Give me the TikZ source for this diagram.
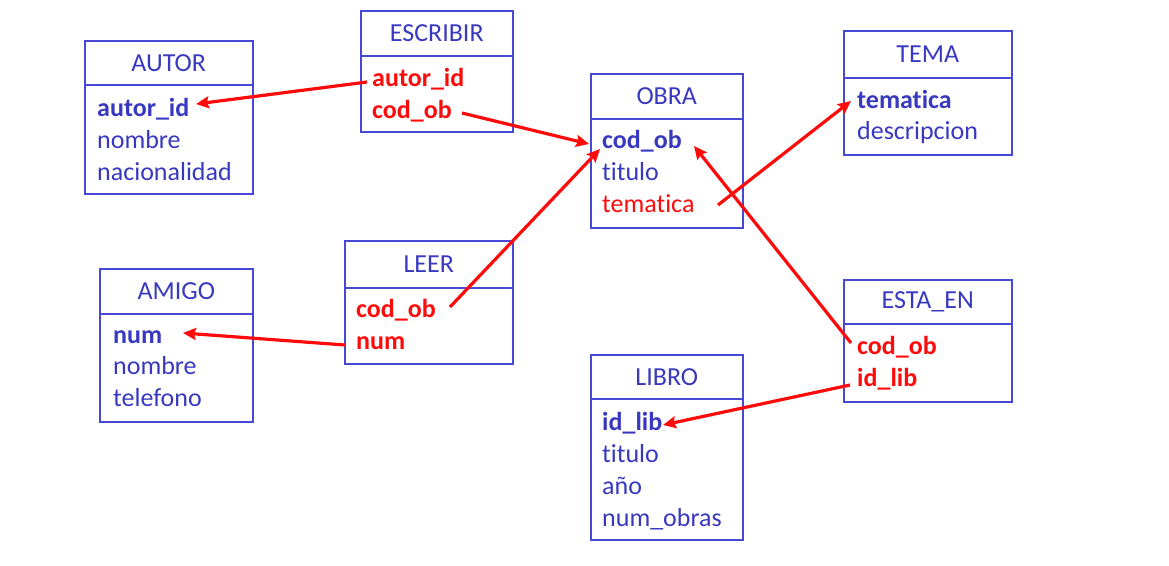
\documentclass[tikz,border=0pt]{standalone}
\usepackage{fontspec}
\setmainfont{Carlito}[Ligatures={NoCommon}]
\usetikzlibrary{arrows.meta}
\definecolor{bordc}{RGB}{72,72,214}
\definecolor{txtb}{RGB}{56,56,192}
\definecolor{txtr}{RGB}{255,10,10}
\tikzset{
  frame/.style={draw=bordc, line width=1.5pt, inner sep=0pt, anchor=north west},
  hdr/.style={frame, text=txtb, font=\fontsize{26}{30}\selectfont},
  fld/.style={inner sep=0pt, anchor=base west, text=txtb, font=\fontsize{26}{30}\selectfont},
  key/.style={fld, font=\fontsize{26}{30}\selectfont\bfseries},
  rfk/.style={fld, text=txtr, font=\fontsize{26}{30}\selectfont\bfseries},
  rfld/.style={fld, text=txtr},
  fkarrow/.style={draw=txtr, line width=3.2pt, -{Stealth[length=13pt,width=12pt,inset=2pt]}},
}
\begin{document}
\begin{tikzpicture}[x=1pt,y=-1pt]
\useasboundingbox (0,0) rectangle (1169,565);
% AUTOR
\node[hdr, minimum width=168pt, minimum height=44pt] (autorH) at (84,40) {AUTOR};
\node[frame, minimum width=168pt, minimum height=109pt] (autorB) at (84,84) {};
\node[key] (autorA) at (97,116) {autor\_id};
\node[fld] (autorN) at (97,148) {nombre};
\node[fld] (autorC) at (97,180) {nacionalidad};
% ESCRIBIR
\node[hdr, minimum width=152pt, minimum height=45pt] (escH) at (360,10) {ESCRIBIR};
\node[frame, minimum width=152pt, minimum height=76pt] (escB) at (360,55) {};
\node[rfk] (escA) at (372,86) {autor\_id};
\node[rfk] (escC) at (372,118) {cod\_ob};
% OBRA
\node[hdr, minimum width=152pt, minimum height=45pt] (obraH) at (590,73) {OBRA};
\node[frame, minimum width=152pt, minimum height=109pt] (obraB) at (590,118) {};
\node[key] (obraC) at (602,148) {cod\_ob};
\node[fld] (obraT) at (602,180) {titulo};
\node[rfld] (obraM) at (602,212) {tematica};
% TEMA
\node[hdr, minimum width=168pt, minimum height=47pt] (temaH) at (843,30) {TEMA};
\node[frame, minimum width=168pt, minimum height=77pt] (temaB) at (843,77) {};
\node[key] (temaM) at (857,108) {tematica};
\node[fld] (temaD) at (857,139) {descripcion};
% LEER
\node[hdr, minimum width=168pt, minimum height=47pt] (leerH) at (344,240) {LEER};
\node[frame, minimum width=168pt, minimum height=76pt] (leerB) at (344,287) {};
\node[rfk] (leerC) at (356,317) {cod\_ob};
\node[rfk] (leerN) at (356,349) {num};
% AMIGO
\node[hdr, minimum width=153pt, minimum height=45pt] (amigoH) at (99,268) {AMIGO};
\node[frame, minimum width=153pt, minimum height=108pt] (amigoB) at (99,313) {};
\node[key] (amigoN) at (113,343) {num};
\node[fld] (amigoO) at (113,374) {nombre};
\node[fld] (amigoT) at (113,406) {telefono};
% ESTA_EN
\node[hdr, minimum width=168pt, minimum height=44pt] (estaH) at (843,279) {ESTA\_EN};
\node[frame, minimum width=168pt, minimum height=78pt] (estaB) at (843,323) {};
\node[rfk] (estaC) at (857,354) {cod\_ob};
\node[rfk] (estaL) at (857,386) {id\_lib};
% LIBRO
\node[hdr, minimum width=152pt, minimum height=44pt] (libroH) at (590,354) {LIBRO};
\node[frame, minimum width=152pt, minimum height=141pt] (libroB) at (590,398) {};
\node[key] (libroL) at (602,430) {id\_lib};
\node[fld] (libroT) at (602,462) {titulo};
\node[fld] (libroA) at (602,494) {año};
\node[fld] (libroN) at (602,526) {num\_obras};
% arrow end points
\coordinate (a1s) at (367,82);  \coordinate (a1e) at (196,104);
\coordinate (a2s) at (462,113); \coordinate (a2e) at (589,144);
\coordinate (a3s) at (450,307); \coordinate (a3e) at (600,149);
\coordinate (a4s) at (718,205); \coordinate (a4e) at (851,101);
\coordinate (a5s) at (851,343); \coordinate (a5e) at (694,146);
\coordinate (a6s) at (850,385); \coordinate (a6e) at (663,425);
\coordinate (a7s) at (345,345); \coordinate (a7e) at (183,333);
\draw[fkarrow] (a1s) -- (a1e);
\draw[fkarrow] (a2s) -- (a2e);
\draw[fkarrow] (a3s) -- (a3e);
\draw[fkarrow] (a4s) -- (a4e);
\draw[fkarrow] (a5s) -- (a5e);
\draw[fkarrow] (a6s) -- (a6e);
\draw[fkarrow] (a7s) -- (a7e);
\end{tikzpicture}
\end{document}
